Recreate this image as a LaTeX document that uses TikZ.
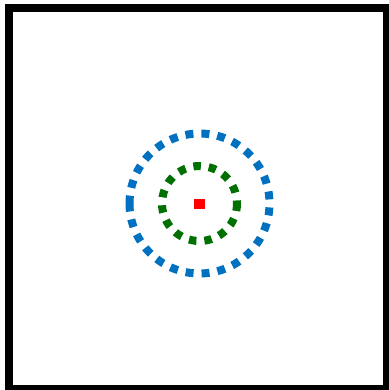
\documentclass[tikz,border=0pt]{standalone}
\definecolor{cblue}{HTML}{0070C0}
\definecolor{cgreen}{HTML}{007000}
\begin{document}
\begin{tikzpicture}[x=1pt,y=-1pt,
  ring/.style={line width=8pt,dash pattern=on 8pt off 8pt}]
\useasboundingbox (0,0) rectangle (388,390);
\fill[white] (0,0) rectangle (388,390);
\draw[line width=8pt] (9,8) rectangle (387,389);
\coordinate (c) at (199.5,203.5);
\draw[ring,cblue] ([xshift=-70pt]c) arc[start angle=180,end angle=-180,radius=70];
\draw[ring,cgreen,dash pattern=on 7.5pt off 8pt] ([xshift=37.5pt]c) arc[start angle=0,end angle=360,radius=37.5];
\node[fill=red,minimum width=11pt,minimum height=10pt,inner sep=0pt] (sq) at (c) {};
\end{tikzpicture}
\end{document}
